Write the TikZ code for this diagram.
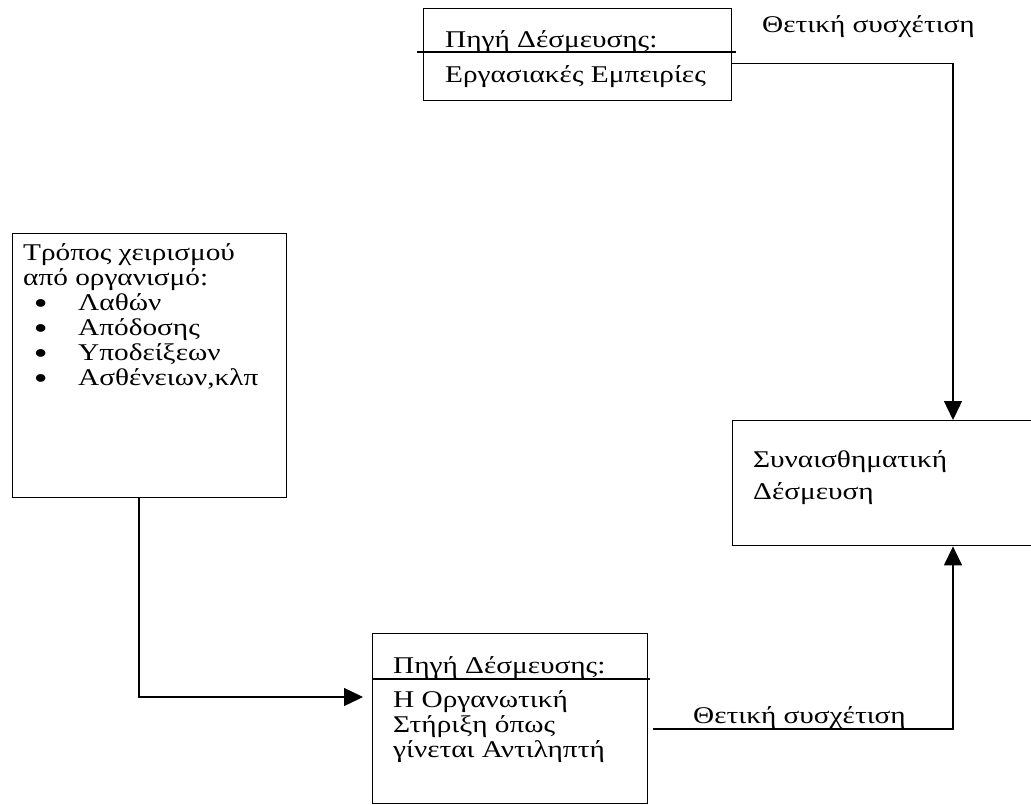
\documentclass[tikz,border=0pt]{standalone}
\usepackage{fontspec}
\setmainfont{Liberation Serif}[FakeStretch=1.22]
\usetikzlibrary{arrows.meta, positioning}

\newcommand{\dotitem}[1]{\hspace*{11pt}\makebox[44pt][l]{\raisebox{2pt}{\fontsize{18}{18}\selectfont ●}}#1}

\begin{document}
\begin{tikzpicture}[x=1pt, y=-1pt,
        every node/.style={font=\fontsize{24}{25}\selectfont},
        box/.style={draw, line width=1.4pt, anchor=north west, inner sep=0pt},
        txt/.style={anchor=base west, inner sep=0pt},
        lines/.style={anchor=north west, inner sep=0pt, align=left},
        link/.style={line width=1.4pt},
        arr/.style={line width=1.4pt, -{Triangle[length=19pt, width=18pt]}}
    ]
    \useasboundingbox (0,0) rectangle (1031,805);
    % frames
    \node (work)    [box, minimum width=308pt, minimum height=92pt]  at (423,8)   {};
    \node (affect)  [box, minimum width=300pt, minimum height=125pt] at (732,420) {};
    \node (handle)  [box, minimum width=274pt, minimum height=264pt] at (12,233)  {};
    \node (support) [box, minimum width=275pt, minimum height=170pt] at (372,633) {};
    % texts
    \node (workhead) [txt] at (445,48) {Πηγή Δέσμευσης:};
    \node (workbody) [txt] at (445,83) {Εργασιακές Εμπειρίες};
    \node (affecttxt) [lines, font=\fontsize{24}{32}\selectfont] at (753,450)
        {Συναισθηματική\\Δέσμευση};
    \node (handletxt) [lines] at (23,243)
        {Τρόπος χειρισμού\\από οργανισμό:\\
         \dotitem{Λαθών}\\
         \dotitem{Απόδοσης}\\
         \dotitem{Υποδείξεων}\\
         \dotitem{Ασθένειων,κλπ}};
    \node (supporthead) [txt] at (393,673) {Πηγή Δέσμευσης:};
    \node (supporttxt) [lines] at (393,690)
        {Η Οργανωτική\\Στήριξη όπως\\γίνεται Αντιληπτή};
    \node (toplabel) [txt] at (762,33) {Θετική συσχέτιση};
    \node (lowlabel) [txt] at (693,723) {Θετική συσχέτιση};
    % rules under the headings
    \coordinate (workcut) at (417,52);
    \coordinate (supportcut) at (372,679);
    \draw [link] (workcut) -- ++(319,0);
    \draw [link] (supportcut) -- ++(278,0);
    % connectors
    \coordinate (rjoin) at (953,0);
    \coordinate (ljoin) at (139,0);
    \coordinate (lowstart) at (653,729);
    \draw [arr] ([yshift=-9pt]work.east) -| (rjoin |- affect.north);
    \draw [arr] (lowstart) -| (rjoin |- affect.south);
    \draw [arr, shorten >=9pt] (ljoin |- handle.south) |- (support.west |- 0,697);
\end{tikzpicture}
\end{document}
